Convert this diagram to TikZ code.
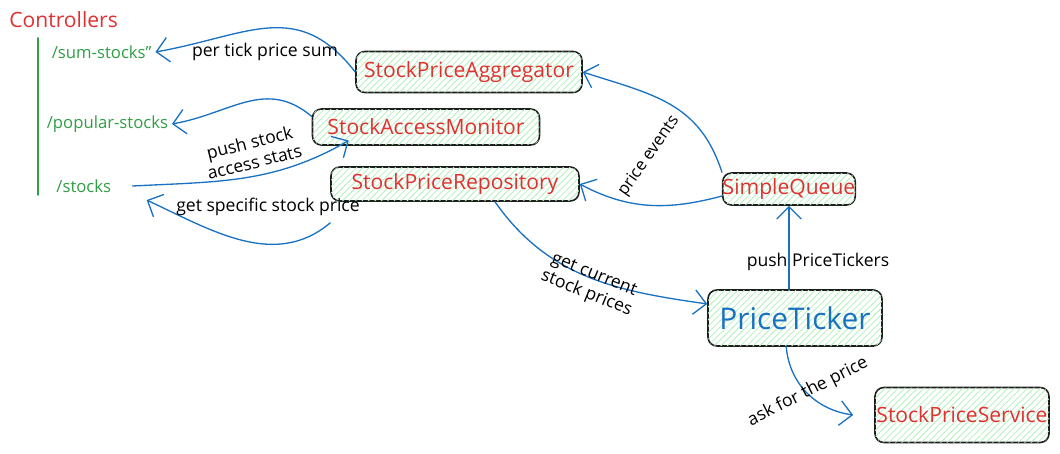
\documentclass[tikz,border=0pt]{standalone}
\usepackage{fontspec}
\setmainfont{Open Sans}
\usetikzlibrary{arrows.meta,positioning,patterns.meta}
\definecolor{exred}{HTML}{E03131}
\definecolor{exgreen}{HTML}{2F9E44}
\definecolor{exblue}{HTML}{1971C2}
\definecolor{exline}{HTML}{1E1E1E}
\definecolor{exhatch}{HTML}{B2F2BB}
\tikzset{
  >={Straight Barb[length=7pt,width=14pt]},
  sketchy/.style={x=0.02cm, y=0.02cm, line join=round, line cap=round},
  compbox/.style={
    rectangle, rounded corners=5pt, draw=exline, line width=0.9pt,
    text=exred, font=\fontsize{12}{14}\selectfont, inner sep=0pt,
    fill=white,
    postaction={pattern={Lines[angle=45,distance=2.6pt,line width=0.45pt]}, pattern color=exhatch}
  },
  endpoint/.style={text=exgreen, font=\fontsize{9.5}{11}\selectfont, anchor=west, inner sep=2pt},
  flow/.style={->, draw=exblue, line width=0.75pt},
  lbl/.style={font=\fontsize{10}{11.5}\selectfont, align=center, inner sep=1pt}
}
\begin{document}
\begin{tikzpicture}[sketchy]
\useasboundingbox (0,0) rectangle (1060,-453);

% 1 : Controllers
\node[text=exred, font=\fontsize{12}{14}\selectfont, anchor=west, inner sep=0pt] (ctrl) at (9,-20) {Controllers};
\draw[exgreen, line width=0.9pt] (38,-38) -- (38,-195);
\node[endpoint] (sumstk) at (48,-52) {/sum-stocks"};
\node[endpoint] (popstk) at (43,-124) {/popular-stocks};
\node[endpoint, inner xsep=12pt] (stocks) at (35,-186) {/stocks};

% 2 : Composants
\node[compbox, minimum width=4.52cm, minimum height=0.82cm] (agg) at (469,-72) {StockPriceAggregator};
\node[compbox, minimum width=4.54cm, minimum height=0.72cm] (mon) at (426,-127) {StockAccessMonitor};
\node[compbox, minimum width=4.96cm, minimum height=0.68cm] (rep) at (455,-184) {StockPriceRepository};
\node[compbox, minimum width=2.6cm, minimum height=0.64cm] (sq) at (789,-189) {SimpleQueue};
\node[compbox, minimum width=3.48cm, minimum height=1.12cm, text=exblue, font=\fontsize{17}{19}\selectfont] (pt) at (795,-318) {PriceTicker};
\node[compbox, minimum width=3.48cm, minimum height=1.1cm] (svc) at (962,-415) {StockPriceService};

% 3 : Vers les controllers
\draw[flow] (agg.west) to[out=128,in=10,looseness=1.2] (sumstk.east);
\node[lbl] (lsum) at (265,-52) {per tick price sum};
\draw[flow] ([yshift=6]mon.west) to[out=140,in=10,looseness=1.1] (popstk.east);
\draw[flow] (stocks.east) to[out=3,in=-150] ([xshift=0.74cm,yshift=3]mon.south west);
\node[lbl, rotate=14] (lpush) at (252,-152) {push stock\\access stats};
\draw[flow] ([yshift=-12]rep.south west) to[out=-140,in=-25] ([xshift=8,yshift=-8]stocks.east);
\node[lbl] (lget) at (268,-207) {get specific stock price};

% 4 : Evenements de prix
\draw[flow] (sq.north west) to[out=108,in=-18,looseness=1.1] (agg.east);
\node[lbl, rotate=55, font=\fontsize{9.5}{11}\selectfont] (lev) at (649,-156) {price events};
\draw[flow] ([yshift=-4]sq.west) to[out=195,in=-28] (rep.east);

% 5 : PriceTicker
\draw[flow] ([xshift=0.8cm]rep.south) to[out=-55,in=172] ([yshift=8]pt.west);
\node[lbl, rotate=-22] (lcur) at (590,-285) {get current\\stock prices};
\draw[flow] (pt.north -| sq.south) -- (sq.south);
\node[lbl] (ltick) at (818,-262) {push PriceTickers};
\draw[flow] ([xshift=-5]pt.south) to[out=-85,in=172] ([xshift=-12]svc.west);
\node[lbl, rotate=27] (lask) at (808,-392) {ask for the price};

\end{tikzpicture}
\end{document}
